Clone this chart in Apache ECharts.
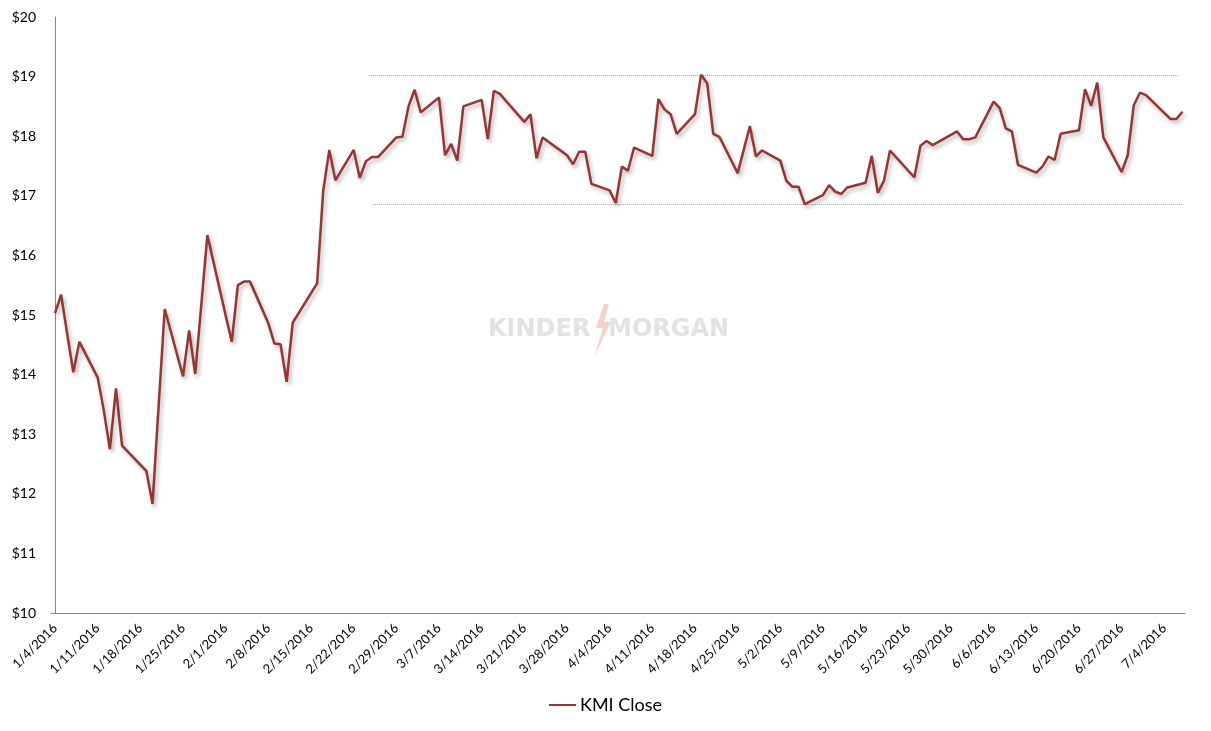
<!DOCTYPE html>
<html>
<head>
<meta charset="utf-8">
<script src="https://cdn.jsdelivr.net/npm/echarts@6/dist/echarts.min.js"></script>
<style>
  html, body { margin: 0; padding: 0; background: #fff; }
  #chart { width: 1211px; height: 731px; }
</style>
</head>
<body>
<div id="chart"></div>
<script>
// ---- Data (2016 trading days, KMI closing price) ----
const dates = [
  '1/4','1/5','1/6','1/7','1/8','1/11','1/12','1/13','1/14','1/15','1/19','1/20','1/21','1/22','1/25','1/26','1/27','1/28','1/29',
  '2/1','2/2','2/3','2/4','2/5','2/8','2/9','2/10','2/11','2/12','2/16','2/17','2/18','2/19','2/22','2/23','2/24','2/25','2/26','2/29',
  '3/1','3/2','3/3','3/4','3/7','3/8','3/9','3/10','3/11','3/14','3/15','3/16','3/17','3/18','3/21','3/22','3/23','3/24','3/28','3/29','3/30','3/31',
  '4/1','4/4','4/5','4/6','4/7','4/8','4/11','4/12','4/13','4/14','4/15','4/18','4/19','4/20','4/21','4/22','4/25','4/26','4/27','4/28','4/29',
  '5/2','5/3','5/4','5/5','5/6','5/9','5/10','5/11','5/12','5/13','5/16','5/17','5/18','5/19','5/20','5/23','5/24','5/25','5/26','5/27','5/31',
  '6/1','6/2','6/3','6/6','6/7','6/8','6/9','6/10','6/13','6/14','6/15','6/16','6/17','6/20','6/21','6/22','6/23','6/24','6/27','6/28','6/29','6/30',
  '7/1','7/5','7/6','7/7'
];
const closes = [
  15.03,15.34,14.68,14.04,14.55,13.95,13.40,12.75,13.77,12.81,12.38,11.83,13.47,15.10,13.97,14.74,14.01,15.17,16.34,
  14.99,14.55,15.50,15.56,15.56,14.86,14.52,14.51,13.88,14.87,15.53,17.08,17.77,17.26,17.77,17.30,17.58,17.65,17.65,17.98,
  17.99,18.50,18.78,18.40,18.65,17.68,17.87,17.59,18.50,18.61,17.95,18.76,18.71,18.59,18.24,18.37,17.63,17.98,17.68,17.53,17.74,17.74,
  17.20,17.09,16.88,17.49,17.42,17.81,17.67,18.62,18.45,18.37,18.04,18.37,19.03,18.89,18.04,17.99,17.38,17.77,18.17,17.66,17.76,
  17.59,17.25,17.15,17.15,16.86,17.01,17.18,17.07,17.03,17.14,17.22,17.67,17.05,17.25,17.76,17.42,17.31,17.84,17.92,17.85,18.08,
  17.95,17.95,17.98,18.58,18.47,18.13,18.08,17.52,17.39,17.49,17.66,17.60,18.04,18.10,18.79,18.51,18.90,17.98,17.40,17.68,18.52,18.73,
  18.69,18.29,18.29,18.41
];
const tickDates = ['1/4','1/11','1/18','1/25','2/1','2/8','2/15','2/22','2/29','3/7','3/14','3/21','3/28','4/4','4/11','4/18','4/25','5/2','5/9','5/16','5/23','5/30','6/6','6/13','6/20','6/27','7/4'];
const resistance = { value: 19.03, from: '2/24', to: '7/6' };
const support    = { value: 16.85, from: '2/25', to: '7/7' };
const seriesName = 'KMI Close';

// ---- helpers ----
const BASE = Date.UTC(2016, 0, 4);
function dayIndex(md) {
  const p = md.split('/').map(Number);
  return (Date.UTC(2016, p[0] - 1, p[1]) - BASE) / 86400000;
}
function fmtDay(v) {
  const d = new Date(BASE + Math.round(v) * 86400000);
  return (d.getUTCMonth() + 1) + '/' + d.getUTCDate() + '/2016';
}

const lineData = dates.map((d, i) => [dayIndex(d), closes[i]]);
const FONT = 'Lato, "Open Sans", sans-serif';
const LINE_COLOR = '#933634';

const chart = echarts.init(document.getElementById('chart'), null, { renderer: 'canvas' });
chart.setOption({
  animation: false,
  backgroundColor: '#ffffff',
  grid: { left: 51, right: 26, top: 17, bottom: 118, outerBoundsMode: 'none' },
  xAxis: {
    type: 'value',
    min: -0.66,
    max: 185.4,
    splitLine: { show: false },
    axisTick: { show: false },
    axisLine: { show: true, lineStyle: { color: '#868686', width: 1 } },
    axisLabel: {
      customValues: tickDates.map(dayIndex),
      formatter: fmtDay,
      rotate: 45,
      margin: 13,
      color: '#000',
      fontFamily: FONT,
      fontSize: 13
    }
  },
  yAxis: {
    type: 'value',
    min: 10,
    max: 20,
    interval: 1,
    splitLine: { show: false },
    axisTick: { show: false },
    axisLine: { show: true, lineStyle: { color: '#868686', width: 1 } },
    axisLabel: {
      formatter: v => '$' + v,
      margin: 15,
      color: '#000',
      fontFamily: FONT,
      fontSize: 14
    }
  },
  legend: {
    left: 'center',
    top: 691,
    icon: 'rect',
    itemWidth: 27,
    itemHeight: 2,
    itemGap: 10,
    textStyle: { fontFamily: FONT, fontSize: 18, color: '#000', padding: [0, 0, 0, -1] },
    data: [seriesName]
  },
  graphic: [
    {
      type: 'text', left: 488, top: 318, silent: true, z: 0,
      style: { text: 'KINDER', fill: '#e2e2e2', font: 'bold 24px "DejaVu Sans", sans-serif' }
    },
    {
      type: 'polygon', silent: true, z: 0,
      shape: { points: [[604,304],[596,328],[603,328],[594,357],[611,322],[604,322],[609,304]] },
      style: { fill: '#f5d3ca' }
    },
    {
      type: 'text', left: 608, top: 318, silent: true, z: 0,
      style: { text: 'MORGAN', fill: '#e2e2e2', font: 'bold 24px "DejaVu Sans", sans-serif' }
    }
  ],
  series: [{
    name: seriesName,
    type: 'line',
    data: lineData,
    showSymbol: false,
    symbol: 'none',
    z: 5,
    itemStyle: { color: LINE_COLOR },
    lineStyle: {
      color: LINE_COLOR,
      width: 2.5,
      shadowColor: 'rgba(0,0,0,0.3)',
      shadowBlur: 4,
      shadowOffsetX: 2,
      shadowOffsetY: 3
    },
    markLine: {
      silent: true,
      symbol: ['none', 'none'],
      label: { show: false },
      lineStyle: { color: '#a6a6a6', type: 'dotted', width: 1, shadowBlur: 0, shadowColor: 'transparent' },
      data: [
        [{ coord: [dayIndex(resistance.from) + 0.5, resistance.value] }, { coord: [dayIndex(resistance.to) + 0.3, resistance.value] }],
        [{ coord: [dayIndex(support.from) + 0.2, support.value] }, { coord: [dayIndex(support.to), support.value] }]
      ]
    }
  }]
});
</script>
</body>
</html>
